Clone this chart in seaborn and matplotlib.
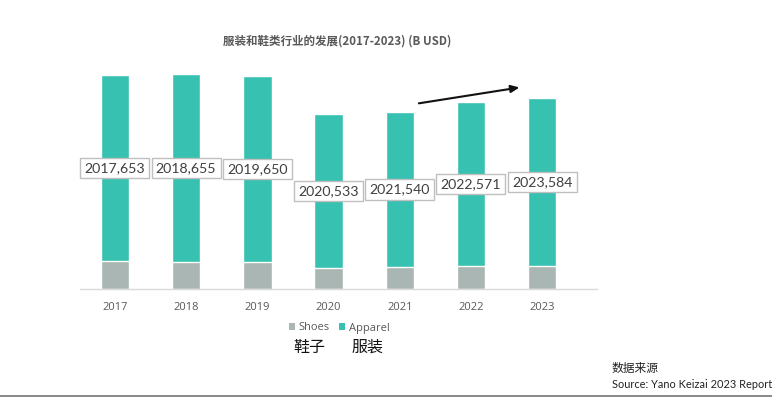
import numpy as np
import pandas as pd
import matplotlib
matplotlib.use("Agg")
import matplotlib.pyplot as plt
import seaborn as sns
from matplotlib.patches import Patch, Rectangle

# data (B USD)
years = ['2017', '2018', '2019', '2020', '2021', '2022', '2023']
shoes = [86, 83, 81, 65, 67, 69, 70]
apparel = [567, 572, 569, 468, 473, 502, 514]
labels = ['2017,653', '2018,655', '2019,650', '2020,533', '2021,540', '2022,571', '2023,584']

# trend arrow (data coords)
arrow_start = (4.23, 565)
arrow_end = (5.72, 616)

TEAL = '#37C1B1'
GREY = '#A9B6B3'
TXT = '#595959'

sns.set_style("white")
plt.rcParams['font.family'] = ['Noto Sans CJK SC', 'DejaVu Sans']

df = pd.DataFrame({'year': years, 'shoes': shoes, 'apparel': apparel})
df['total'] = df['shoes'] + df['apparel']

fig = plt.figure(figsize=(7.78, 3.97), dpi=100)
ax = fig.add_axes([80 / 778, 108 / 397, 517 / 778, 229.5 / 397])

# stacked bars: total in teal, shoes drawn over it in grey
sns.barplot(data=df, x='year', y='total', color=TEAL, width=0.4, saturation=1, ax=ax)
sns.barplot(data=df, x='year', y='shoes', color=GREY, width=0.4, saturation=1, ax=ax)

ax.set_xlim(-0.49, 6.77)
ax.set_ylim(0, 700)
ax.set_xlabel('')
ax.set_ylabel('')
ax.set_yticks([])
for s in ['top', 'right', 'left']:
    ax.spines[s].set_visible(False)
ax.spines['bottom'].set_color('#D9D9D9')
ax.spines['bottom'].set_linewidth(1)
ax.tick_params(axis='x', length=0, pad=9, labelsize=8, labelcolor=TXT)
for t in ax.get_xticklabels():
    t.set_fontfamily(['Open Sans', 'DejaVu Sans'])

# value boxes in the middle of the apparel segment
for i, row in df.iterrows():
    ax.text(i, row['shoes'] + row['apparel'] / 2, labels[i], ha='center', va='center',
            fontsize=10.2, color='#404040', family=['Lato', 'DejaVu Sans'],
            bbox=dict(boxstyle='square,pad=0.3', facecolor='white', edgecolor='#BFBFBF', linewidth=1))

ax.annotate('', xy=arrow_end, xytext=arrow_start,
            arrowprops=dict(arrowstyle='-|>,head_length=0.5,head_width=0.22', color='#111111', lw=1.5))

fig.text(337 / 778, 1 - 41 / 397, '服装和鞋类行业的发展(2017-2023) (B USD)', ha='center', va='center',
         fontsize=8.3, fontweight='bold', color=TXT)

handles = [Patch(facecolor=GREY, edgecolor='none', label='Shoes'),
           Patch(facecolor=TEAL, edgecolor='none', label='Apparel')]
fig.legend(handles=handles, loc='center', bbox_to_anchor=(339 / 778, 1 - 328 / 397), ncol=2,
           frameon=False, handlelength=0.6, handleheight=0.6, handletextpad=0.3,
           columnspacing=0.8, labelcolor=TXT, prop={'family': ['Open Sans', 'DejaVu Sans'], 'size': 8})

fig.text(309 / 778, 1 - 347 / 397, '鞋子', ha='center', va='center', fontsize=11.5, color='#111111')
fig.text(368 / 778, 1 - 347 / 397, '服装', ha='center', va='center', fontsize=11.5, color='#111111')

fig.text(612 / 778, 1 - 368 / 397, '数据来源', ha='left', va='center', fontsize=8.5, color='#222222')
fig.text(612 / 778, 1 - 384 / 397, 'Source: Yano Keizai 2023 Report', ha='left', va='center',
         fontsize=7.9, color='#222222', family=['Lato', 'DejaVu Sans'])

# grey strip at the bottom edge of the screenshot
fig.patches.append(Rectangle((0, 0), 772 / 778, 2.5 / 397, transform=fig.transFigure,
                             facecolor='#8C8C8C', edgecolor='none'))

fig.savefig('out.png', dpi=100)
